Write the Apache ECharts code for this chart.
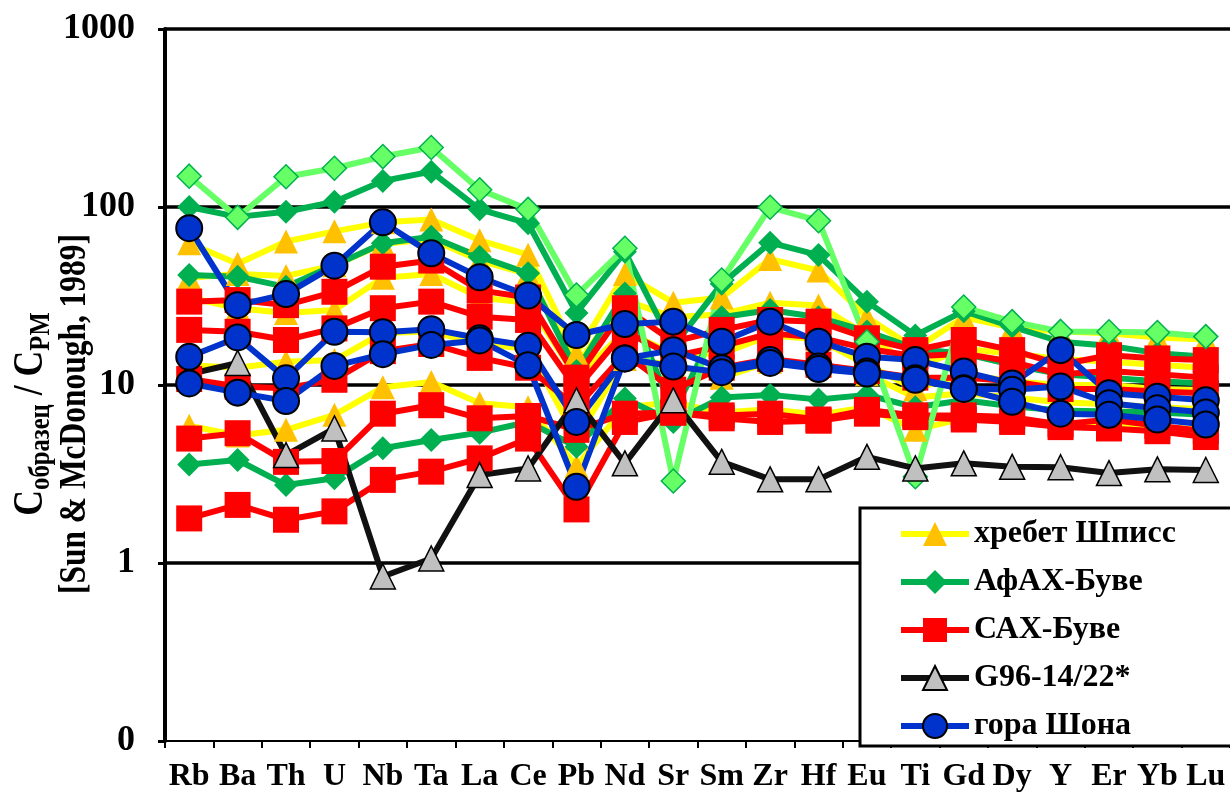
<!DOCTYPE html>
<html>
<head>
<meta charset="utf-8">
<script src="https://cdn.jsdelivr.net/npm/echarts@6/dist/echarts.min.js"></script>
<style>
html,body{margin:0;padding:0;background:#fff;}
#chart{width:1230px;height:798px;}
</style>
</head>
<body>
<div id="chart"></div>
<script>
const categories = ['Rb','Ba','Th','U','Nb','Ta','La','Ce','Pb','Nd','Sr','Sm','Zr','Hf','Eu','Ti','Gd','Dy','Y','Er','Yb','Lu'];
const yTickLabels = {0.1: '0', 1: '1', 10: '10', 100: '100', 1000: '1000'};
const legendNames = ['хребет Шписс','АфАХ-Буве','САХ-Буве','G96-14/22*','гора Шона'];

// хребет Шписс
const shpiss1 = [62.5, 48, 64, 73, 82, 85, 65, 54, 15, 42, 29, 31, 51, 44, 24, 16, 24, 21, 20, 19.5, 18.5, 18];
const shpiss2 = [40, 42, 41, 47, 62, 66, 50, 42, 13, 30, 24, 25, 29, 28, 19, 12.5, 16, 15, 14, 13.5, 13, 12.5];
const shpiss3 = [31, 27, 25.4, 26.4, 40, 42, 31, 29, 11, 20, 15, 15, 19, 18, 13, 9.5, 11.5, 10.5, 10, 10, 9.5, 9.3];
const shpiss4 = [12.9, 12.5, 13.5, 13.8, 19.6, 20, 17, 16, 5, 14, 13, 11, 13.5, 13, 11.5, 8.5, 9, 8.5, 8, 7.8, 7.5, 7.3];
const shpiss5 = [5.9, 5.2, 5.6, 6.8, 9.7, 10.4, 7.9, 7.5, 3.5, 7.5, 8, 7, 7.3, 6.8, 7.5, 5.6, 6.5, 6.2, 6.0, 6.0, 5.8, 5.6];
// АфАХ-Буве
const afah1 = [100, 88, 94, 107, 140, 158, 97, 81, 25.4, 56, 16.5, 37, 63, 53.7, 29.4, 19, 26, 21.3, 17.5, 16.6, 15.1, 14.4];
const afah2 = [41.5, 40.6, 35.6, 47, 62.5, 68, 52.6, 42.4, 12, 32.7, 7, 24, 26.4, 24, 20, 16, 15, 13, 11.5, 11, 10.5, 10.2];
const afah3 = [3.58, 3.79, 2.74, 2.99, 4.41, 4.91, 5.4, 6.2, 4.5, 8.4, 6.2, 8.5, 8.8, 8.3, 8.8, 7.5, 8.2, 7.6, 7.2, 7.1, 7.0, 6.8];
const afahLight = [149, 87.5, 148, 165, 192, 216, 125, 97, 32, 58.6, 2.89, 38.9, 99.6, 83.8, 17.5, 3.05, 27.4, 22.7, 20, 19.9, 19.7, 18.7];
// САХ-Буве
const sah1 = [29.4, 30, 28.1, 33.4, 46.2, 50, 34, 31, 11, 27, 17.5, 20.4, 23.2, 22.7, 18.3, 15.7, 17.9, 15.7, 13, 14.7, 14.1, 13.8];
const sah2 = [20.4, 19.9, 17.9, 20.8, 27, 29.4, 24.2, 23.2, 9.5, 20, 14.5, 16.5, 19.5, 18.5, 16, 14.5, 15, 13.5, 11.5, 12, 11.5, 11];
const sah3 = [10.8, 9.8, 9.6, 10.7, 15.5, 17, 14.2, 12.5, 7.5, 15, 9.4, 12.5, 14, 13, 12, 11, 11, 10.5, 9.5, 9.5, 9.2, 9];
const sah4 = [5.0, 5.36, 3.7, 3.74, 6.9, 7.7, 6.5, 6.7, 5.6, 6.9, 7.0, 6.75, 6.9, 6.4, 7.25, 6.75, 6.75, 6.6, 6.0, 6.4, 5.9, 5.5];
const sah5 = [1.78, 2.12, 1.75, 1.95, 2.93, 3.26, 3.87, 5.0, 2.0, 6.2, 7.0, 6.5, 6.2, 6.3, 6.9, 6.6, 6.4, 6.2, 5.8, 5.7, 5.5, 5.1];
// G96-14/22*
const g96 = [11.5, 13.3, 4.04, 5.7, 0.84, 1.06, 3.12, 3.4, 8.2, 3.63, 8.2, 3.7, 2.95, 2.95, 3.95, 3.4, 3.63, 3.47, 3.45, 3.2, 3.36, 3.33];
// гора Шона
const shona1 = [76, 28.1, 32.4, 46.8, 82, 54.9, 40.3, 31.8, 19.1, 22, 22.7, 17.5, 22.7, 17.5, 14.4, 13.8, 11.9, 10.2, 15.7, 9.0, 8.6, 8.2];
const shona2 = [14.4, 18.5, 10.9, 19.9, 19.8, 20.6, 18.3, 16.6, 6.2, 14.1, 15.7, 12.4, 13.8, 12.7, 11.9, 10.9, 9.6, 9.4, 9.8, 7.9, 7.4, 7.0];
const shona3 = [10.2, 9.06, 8.13, 12.8, 14.9, 16.8, 17.8, 12.9, 2.68, 14.1, 12.7, 11.8, 13.3, 12.3, 11.6, 10.7, 9.5, 8.05, 6.9, 6.8, 6.4, 6.0];

const FONT = 'Liberation Serif';
const LW = 6;

const styles = {
  shpiss: {symbol: 'triangle', symbolSize: 24, itemStyle: {color: '#FFC000', borderWidth: 0}, lineStyle: {color: '#FFFF00', width: LW}},
  afah: {symbol: 'diamond', symbolSize: 24, itemStyle: {color: '#00B050', borderWidth: 0}, lineStyle: {color: '#00B050', width: LW}},
  afahLight: {symbol: 'diamond', symbolSize: 24, itemStyle: {color: '#66FF66', borderColor: '#00B050', borderWidth: 1.5}, lineStyle: {color: '#66FF66', width: LW}},
  sah: {symbol: 'rect', symbolSize: 26, itemStyle: {color: '#FF0000', borderWidth: 0}, lineStyle: {color: '#FF0000', width: LW}},
  g96: {symbol: 'triangle', symbolSize: 25, itemStyle: {color: '#C0C0C0', borderColor: '#000', borderWidth: 1.5}, lineStyle: {color: '#111', width: LW}},
  shona: {symbol: 'circle', symbolSize: 26, itemStyle: {color: '#0033CC', borderColor: '#000', borderWidth: 2}, lineStyle: {color: '#0033CC', width: LW}}
};

function mk(name, data, st) {
  return Object.assign({
    type: 'line', name: name, data: data, showAllSymbol: true,
    animation: false, emphasis: {disabled: true}, z: 2
  }, JSON.parse(JSON.stringify(st)));
}

const series = [
  mk(legendNames[0], shpiss1, styles.shpiss),
  mk(legendNames[0], shpiss2, styles.shpiss),
  mk(legendNames[0], shpiss3, styles.shpiss),
  mk(legendNames[0], shpiss4, styles.shpiss),
  mk(legendNames[0], shpiss5, styles.shpiss),
  mk(legendNames[1], afah1, styles.afah),
  mk(legendNames[1], afah2, styles.afah),
  mk(legendNames[1], afah3, styles.afah),
  mk(legendNames[2], sah1, styles.sah),
  mk(legendNames[2], sah2, styles.sah),
  mk(legendNames[2], sah3, styles.sah),
  mk(legendNames[2], sah4, styles.sah),
  mk(legendNames[2], sah5, styles.sah),
  mk('АфАХ-Буве (2)', afahLight, styles.afahLight),
  mk(legendNames[3], g96, styles.g96),
  mk(legendNames[4], shona1, styles.shona),
  mk(legendNames[4], shona2, styles.shona),
  mk(legendNames[4], shona3, styles.shona)
];

const chart = echarts.init(document.getElementById('chart'), null, {renderer: 'canvas'});
chart.setOption({
  animation: false,
  backgroundColor: '#fff',
  grid: {left: 165, top: 29, width: 1071, height: 712, containLabel: false},
  xAxis: {
    type: 'category', data: categories, boundaryGap: true,
    axisLine: {show: true, lineStyle: {color: '#000', width: 2}},
    axisTick: {show: true, inside: false, length: 7, lineStyle: {color: '#000', width: 2}},
    axisLabel: {interval: 0, margin: 20, color: '#000', fontFamily: FONT, fontWeight: 'bold', fontSize: 32},
    splitLine: {show: false}
  },
  yAxis: {
    type: 'log', logBase: 10, min: 0.1, max: 1000,
    axisLine: {show: true, lineStyle: {color: '#000', width: 4}},
    axisTick: {show: true, length: 7, lineStyle: {color: '#000', width: 3}},
    axisLabel: {margin: 30, color: '#000', fontFamily: FONT, fontWeight: 'bold', fontSize: 36,
      formatter: function (v) { const r = v < 1 ? 0.1 : Math.round(v); return yTickLabels[r] !== undefined ? yTickLabels[r] : String(r); }},
    splitLine: {show: true, showMinLine: false, lineStyle: {color: '#000', width: 3.5}},
    minorTick: {show: false}
  },
  legend: {
    data: legendNames,
    orient: 'vertical',
    left: 860, top: 508,
    padding: [10, 90, 4, 38],
    itemWidth: 68, itemHeight: 30, itemGap: 16,
    backgroundColor: '#fff', borderColor: '#000', borderWidth: 3,
    selectedMode: false,
    lineStyle: {width: LW},
    textStyle: {color: '#000', fontFamily: FONT, fontWeight: 'bold', fontSize: 32},
    z: 20
  },
  graphic: [{
    type: 'text', x: 50, y: 414, rotation: Math.PI / 2, scaleX: 0.85, z: 30,
    style: {
      text: '{c|C}{s|образец}{c| / C}{s|PM}\n{b|[Sun & McDonough, 1989]}',
      align: 'center', verticalAlign: 'middle', fill: '#000',
      rich: {
        c: {fontFamily: FONT, fontWeight: 'bold', fontSize: 42, lineHeight: 50, fill: '#000'},
        s: {fontFamily: FONT, fontWeight: 'bold', fontSize: 29, lineHeight: 24, verticalAlign: 'bottom', fill: '#000'},
        b: {fontFamily: FONT, fontWeight: 'bold', fontSize: 37, lineHeight: 38, fill: '#000'}
      }
    }
  }],
  series: series
});
</script>
</body>
</html>
